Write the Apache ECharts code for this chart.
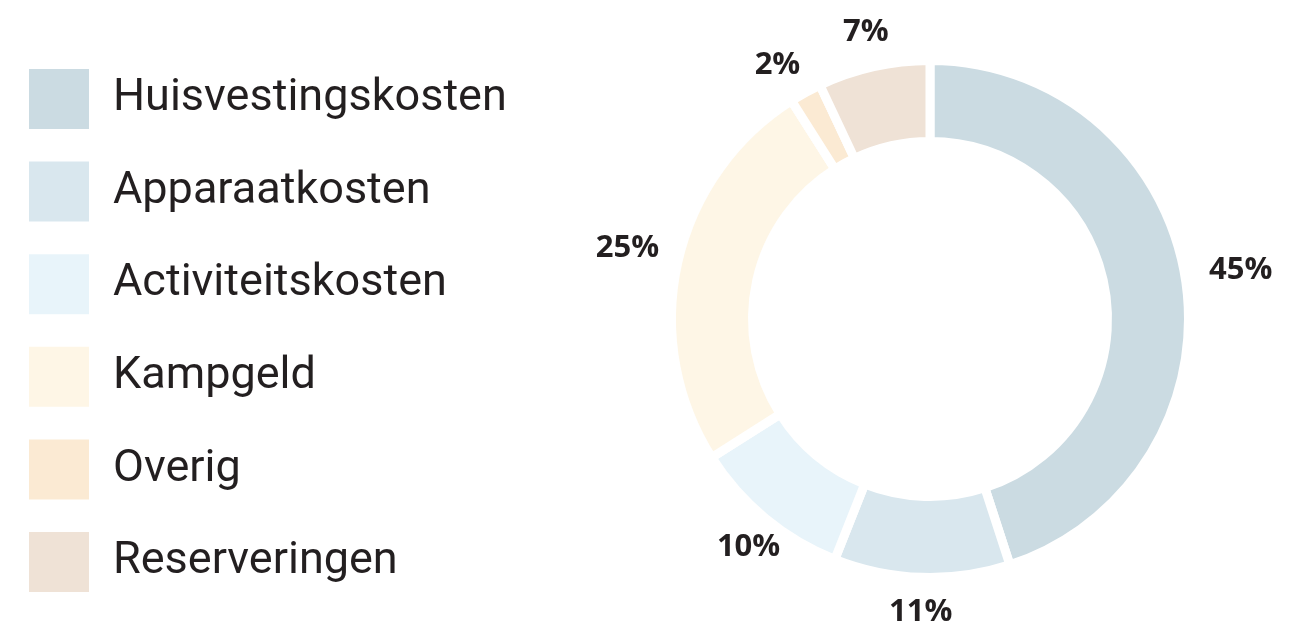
<!DOCTYPE html>
<html><head><meta charset="utf-8">
<script src="https://cdn.jsdelivr.net/npm/echarts@6/dist/echarts.min.js"></script>
<style>html,body{margin:0;padding:0;background:#fff}#c{width:1314px;height:621px}</style>
</head><body><div id="c"></div>
<script>
const categories = ['Huisvestingskosten','Apparaatkosten','Activiteitskosten','Kampgeld','Overig','Reserveringen'];
const values = [45, 11, 10, 25, 2, 7];
const colors = ['#cbdbe2','#d9e7ee','#e8f4fa','#fef6e6','#fbead3','#efe2d6'];
const chart = echarts.init(document.getElementById('c'));
chart.setOption({
  animation:false,
  color: colors,
  legend:{
    orient:'vertical', left:27, top:67, padding:0, itemWidth:62, itemHeight:62, itemGap:28.6,
    icon:'rect',
    textStyle:{fontFamily:'Roboto, sans-serif', fontSize:45, lineHeight:56, color:'#231f20', padding:[0,0,0,18]},
    data:categories
  },
  series:[{
    type:'pie',
    center:[930,319],
    radius:[177.5,258.5],
    startAngle:90,
    clockwise:true,
    itemStyle:{borderColor:'#fff', borderWidth:9},
    label:{show:true, position:'outside', formatter:'{c}%', fontFamily:'"Open Sans", sans-serif', fontWeight:'bold', fontSize:31, color:'#231f20'},
    labelLine:{show:true, length:24, length2:0, lineStyle:{opacity:0}},
    labelLayout:function(p){
      const pts = p.labelLinePoints;
      if(!pts) return {};
      const x1=pts[0][0], y1=pts[0][1], x2=pts[1][0], y2=pts[1][1];
      const L = Math.hypot(x2-x1, y2-y1) || 1;
      const ux=(x2-x1)/L, uy=(y2-y1)/L;
      const hw=p.labelRect.width/2, hh=p.labelRect.height/2*0.7;
      const off=Math.min(hw/Math.max(Math.abs(ux),1e-6), hh/Math.max(Math.abs(uy),1e-6));
      return {x:x2+ux*off, y:y2+uy*off, align:'center', verticalAlign:'middle'};
    },
    emphasis:{disabled:true},
    data: categories.map((n,i)=>({name:n, value:values[i]}))
  }]
});
</script></body></html>
